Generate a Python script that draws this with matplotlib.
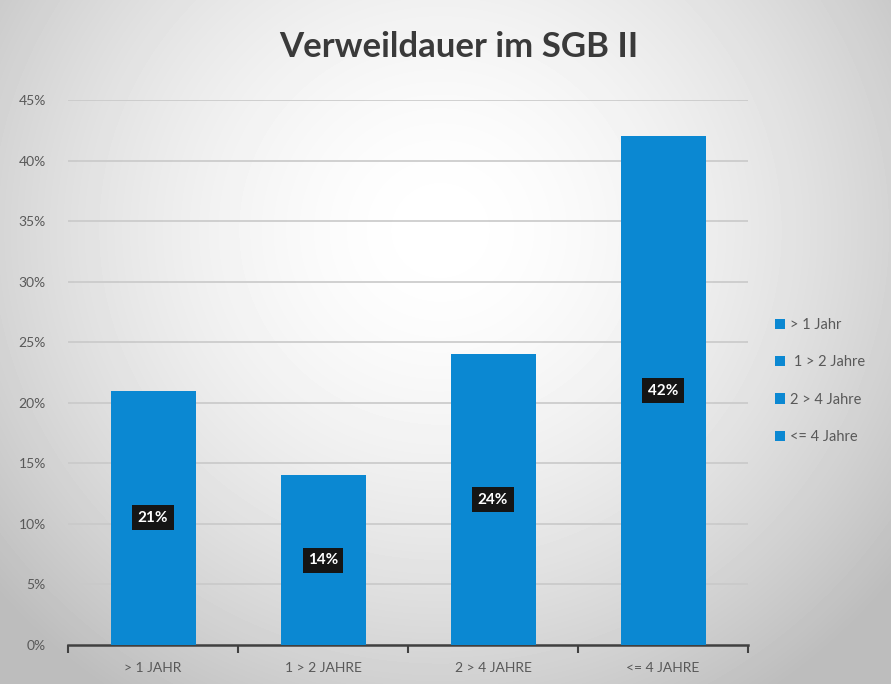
import numpy as np
import matplotlib
matplotlib.use("Agg")
import matplotlib.pyplot as plt
from matplotlib.patches import Patch

plt.rcParams['font.family'] = ['Lato', 'DejaVu Sans']

# ================= DATA =================
categories = ["> 1 JAHR", "1 > 2 JAHRE", "2 > 4 JAHRE", "<= 4 JAHRE"]
values = [21, 14, 24, 42]
legend_labels = ["> 1 Jahr", " 1 > 2 Jahre", "2 > 4 Jahre", "<= 4 Jahre"]
yticks = [0, 5, 10, 15, 20, 25, 30, 35, 40, 45]

BAR_COLOR = "#0b88d2"
TEXT_GREY = "#595959"

fig = plt.figure(figsize=(8.91, 6.84), dpi=100)

# radial grey/white background
bg = fig.add_axes([0, 0, 1, 1], zorder=-10)
yy, xx = np.mgrid[0:684, 0:891]
r = np.sqrt(((xx - 440) / 580.0) ** 2 + ((yy - 230) / 560.0) ** 2)
shade = np.clip(1.0 - 0.26 * r ** 1.7, 0.74, 1.0)
bg.imshow(shade, cmap="gray", vmin=0, vmax=1, aspect="auto")
bg.axis("off")

ax = fig.add_axes([68 / 891, 39 / 684, 680 / 891, 545 / 684])
ax.patch.set_alpha(0)

x = np.arange(len(categories))
ax.bar(x, values, width=0.5, color=BAR_COLOR, zorder=3)

for xi, v in zip(x, values):
    ax.text(xi, v / 2, f"{v}%", ha="center", va="center", color="white",
            fontsize=11, fontweight="bold", zorder=5,
            bbox=dict(boxstyle="square,pad=0.35", facecolor="#151515", edgecolor="none"))

ax.set_xlim(-0.5, len(categories) - 0.5)
ax.set_ylim(0, 45)
ax.set_yticks(yticks)
ax.set_yticklabels([f"{t}%" for t in yticks], color=TEXT_GREY, fontsize=10)
ax.yaxis.grid(True, color="#c9c9c9", linewidth=1.2, zorder=0)
ax.set_axisbelow(True)

ax.set_xticks(x)
ax.set_xticklabels(categories, color=TEXT_GREY, fontsize=10)
ax.tick_params(axis="x", length=0, pad=12)
ax.set_xticks(np.arange(-0.5, len(categories)), minor=True)
ax.tick_params(axis="x", which="minor", length=6, width=1.5, color="#404040")
ax.tick_params(axis="y", length=0, pad=16)

for s in ["top", "right", "left"]:
    ax.spines[s].set_visible(False)
ax.spines["bottom"].set_color("#404040")
ax.spines["bottom"].set_linewidth(1.8)

fig.text(0.515, 0.932, "Verweildauer im SGB II", ha="center", va="center",
         fontsize=25, fontweight="bold", color="#3a3a3a")

handles = [Patch(facecolor=BAR_COLOR, edgecolor="none") for _ in legend_labels]
fig.legend(handles, legend_labels, loc="center left", bbox_to_anchor=(0.855, 0.443),
           frameon=False, fontsize=10.5, labelcolor=TEXT_GREY, handlelength=0.7,
           handleheight=0.7, handletextpad=0.3, labelspacing=1.6)

fig.savefig("out.png", dpi=100)
